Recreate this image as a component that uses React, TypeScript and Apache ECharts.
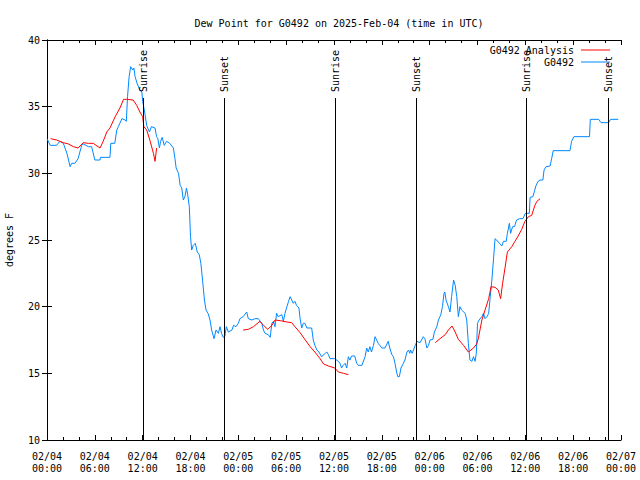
import React, { useEffect, useRef } from "react";
import * as echarts from "echarts";

// hours since 2025-02-04 00:00 UTC, dew point in °F
const stationName = "G0492";
const analysisName = "G0492 Analysis";
const titleText = "Dew Point for G0492 on 2025-Feb-04 (time in UTC)";
const yTitle = "degrees F";

const observed: [number, number][] = [
  [0, 32.6], [0.4, 32.1], [1.2, 32.1], [1.6, 32.4], [2.05, 32.25], [2.5, 31.5], [2.9, 30.5], [3.1, 30.75], [3.5, 30.75], [3.9, 31.1],
  [4.35, 32.1], [4.55, 32.2], [5.2, 32.0], [5.6, 32.0], [6.0, 31.0], [6.65, 31.0], [6.7, 31.2], [7.9, 31.2], [8.0, 32.25], [8.5, 32.25],
  [8.75, 33.25], [8.95, 33.5], [9.4, 34.1], [9.8, 34.0], [9.95, 33.9], [10.1, 35.75], [10.3, 37.25], [10.5, 38.0], [10.75, 37.75], [10.9, 37.9],
  [11.05, 37.25], [11.3, 36.75], [11.65, 36.25], [11.9, 36.1], [12.0, 35.4], [12.1, 35.1], [12.3, 34.4], [12.5, 33.6], [12.85, 33.1], [13.1, 33.5],
  [13.55, 33.4], [13.75, 32.75], [13.9, 32.6], [14.1, 31.9], [14.25, 32.4], [14.45, 32.7], [14.7, 32.1], [15.0, 32.4], [15.4, 32.25], [15.85, 31.9],
  [16.05, 31.1], [16.2, 30.4], [16.5, 30.0], [16.7, 29.1], [16.9, 28.9], [17.1, 28.0], [17.3, 28.25], [17.5, 28.9], [17.65, 28.4], [17.85, 27.5],
  [18.0, 25.25], [18.15, 24.25], [18.35, 24.6], [18.6, 24.75], [18.85, 24.1], [19.1, 23.9], [19.3, 23.25], [19.55, 21.75], [19.75, 20.5], [19.95, 19.75],
  [20.2, 19.5], [20.45, 19.0], [20.65, 18.25], [20.95, 17.6], [21.2, 18.25], [21.5, 18.0], [21.7, 18.5], [21.9, 18.0], [22.1, 17.7], [22.3, 17.75],
  [22.5, 18.5], [22.75, 18.1], [23.2, 18.25], [23.4, 18.6], [23.7, 18.5], [24.0, 18.75], [24.2, 19.1], [24.6, 19.25], [25.05, 19.6], [25.25, 19.1],
  [25.7, 19.0], [26.1, 19.1], [26.5, 19.1], [26.95, 18.75], [27.15, 18.25], [27.35, 18.0], [27.75, 17.9], [28.0, 17.7], [28.2, 18.75], [28.4, 18.9],
  [28.6, 18.5], [28.8, 19.5], [29.0, 19.25], [29.45, 19.4], [29.65, 18.9], [29.85, 19.5], [30.1, 20.0], [30.3, 20.4], [30.5, 20.75], [30.7, 20.5],
  [30.9, 20.25], [31.1, 20.4], [31.3, 20.1], [31.6, 19.9], [31.75, 19.1], [31.95, 18.4], [32.15, 18.75], [32.35, 18.75], [32.6, 18.4], [33.2, 18.4],
  [33.4, 17.5], [33.6, 17.1], [33.85, 16.75], [34.1, 16.6], [34.45, 16.25], [34.9, 16.5], [35.1, 16.6], [35.3, 16.4], [35.5, 16.1], [36.1, 16.1],
  [36.55, 15.9], [36.75, 15.75], [36.95, 15.4], [37.15, 15.6], [37.4, 15.75], [37.6, 15.4], [37.8, 16.25], [38.0, 16.0], [38.2, 16.3], [38.6, 16.3],
  [38.85, 15.75], [39.05, 15.6], [39.5, 15.6], [39.9, 16.25], [40.1, 16.9], [40.3, 16.6], [40.5, 17.0], [40.7, 16.6], [40.95, 17.1], [41.15, 17.75],
  [41.35, 17.5], [41.55, 17.25], [42.0, 16.9], [42.4, 16.9], [42.8, 17.4], [43.0, 16.9], [43.25, 16.4], [43.45, 16.25], [43.65, 15.75], [43.85, 15.1],
  [44.0, 14.75], [44.2, 14.75], [44.4, 15.4], [44.7, 15.75], [44.9, 16.0], [45.15, 16.6], [45.35, 16.75], [45.5, 16.5], [45.6, 16.75], [45.8, 16.5],
  [46.2, 17.1], [46.4, 17.4], [46.8, 17.3], [47.2, 17.75], [47.4, 17.6], [47.65, 16.9], [47.85, 17.1], [48.05, 17.5], [48.4, 17.55], [48.6, 18.1],
  [48.9, 18.5], [49.1, 19.0], [49.4, 19.4], [49.6, 20.0], [49.8, 21.0], [49.9, 21.1], [50.05, 20.5], [50.35, 20.0], [50.55, 19.6], [50.75, 20.75],
  [51.0, 22.0], [51.2, 21.6], [51.4, 20.75], [51.6, 19.25], [51.8, 20.0], [52.0, 19.75], [52.45, 19.5], [52.65, 19.0], [52.85, 17.25], [53.05, 16.0],
  [53.3, 15.9], [53.5, 16.25], [53.7, 15.9], [53.85, 16.5], [54.0, 18.75], [54.2, 19.0], [54.55, 19.25], [54.75, 19.5], [54.95, 19.1], [55.2, 19.25],
  [55.4, 19.5], [55.6, 20.75], [55.8, 22.0], [56.0, 23.5], [56.2, 25.1], [56.4, 25.0], [56.75, 24.75], [57.05, 24.55], [57.25, 24.9], [57.6, 24.9],
  [57.75, 25.5], [58.0, 26.25], [58.15, 25.5], [58.4, 26.0], [58.65, 26.0], [58.9, 26.5], [59.3, 26.6], [59.7, 26.6], [60.0, 27.0], [60.5, 27.0],
  [60.6, 28.2], [60.95, 28.25], [61.35, 29.1], [61.6, 29.4], [61.85, 29.5], [62.2, 29.5], [62.35, 30.25], [62.6, 30.5], [63.1, 30.55], [63.3, 31.1],
  [63.5, 31.7], [65.6, 31.7], [65.8, 32.4], [66.1, 32.75], [68.05, 32.75], [68.15, 34.05], [69.2, 34.05], [69.5, 33.8], [70.45, 33.8], [70.7, 34.05],
  [71.65, 34.05],
];

const analysisPart1: [number, number][] = [
  [0.45, 32.6], [1.2, 32.5], [2.05, 32.3], [2.7, 32.2], [3.3, 32.0], [3.9, 31.9], [4.55, 32.3], [5.2, 32.25], [5.8, 32.25], [6.65, 31.9],
  [7.05, 32.4], [7.5, 33.1], [7.9, 33.4], [8.55, 34.25], [9.15, 34.9], [9.6, 35.55], [10.0, 35.55], [10.8, 35.5], [11.25, 35.1], [11.65, 34.6],
  [12.0, 34.25], [12.15, 33.5], [12.5, 33.25], [12.9, 32.5], [13.35, 31.5], [13.55, 30.9], [13.75, 31.9],
];
const analysisPart2: [number, number][] = [
  [24.6, 18.25], [25.25, 18.3], [25.9, 18.5], [26.7, 18.9], [27.15, 18.6], [27.7, 18.3], [28.2, 18.6], [28.6, 19.0], [29.25, 18.95], [30.1, 18.85],
  [30.7, 18.8], [31.1, 18.5], [31.75, 18.05], [32.4, 17.5], [33.0, 17.0], [33.6, 16.6], [34.25, 16.1], [34.7, 15.7], [35.3, 15.55], [36.1, 15.4],
  [36.55, 15.1], [37.2, 15.0], [37.8, 14.9],
];
const analysisPart3: [number, number][] = [
  [48.7, 17.3], [49.3, 17.6], [49.95, 17.9], [50.35, 18.25], [50.8, 18.55], [51.2, 18.1], [51.6, 17.55], [52.25, 17.1], [52.85, 16.6], [53.5, 16.9],
  [53.9, 17.2], [54.1, 17.6], [54.55, 19.0], [54.95, 19.75], [55.4, 20.6], [55.7, 21.5], [56.2, 21.45], [56.6, 21.25], [56.9, 20.6], [57.15, 21.75],
  [57.45, 22.9], [57.75, 24.1], [58.3, 24.5], [58.7, 24.9], [59.1, 25.3], [59.55, 25.8], [59.95, 26.4], [60.4, 26.75], [60.8, 26.85], [61.2, 27.6],
  [61.45, 27.9], [61.85, 28.1],
];

const sunEventHours = [12.08, 22.25, 36.17, 46.34, 60.14, 70.43];
const sunEventNames = ["Sunrise", "Sunset", "Sunrise", "Sunset", "Sunrise", "Sunset"];

const dayLabels = ["02/04", "02/05", "02/06", "02/07"];
const xMin = 0;
const xMax = 72;
const yMin = 10;
const yMax = 40;

const FONT = "DejaVu Sans Mono";

export default function App() {
  const ref = useRef<HTMLDivElement>(null);
  useEffect(() => {
    if (!ref.current) return;
    const chart = echarts.init(ref.current, undefined, { renderer: "svg" });
    const analysis: any[] = [...analysisPart1, [19, "-"], ...analysisPart2, [43, "-"], ...analysisPart3];
    const fmtX = (v: number) => {
      const d = Math.floor(v / 24);
      const hh = Math.round(v - d * 24);
      return dayLabels[d] + "\n" + String(hh).padStart(2, "0") + ":00";
    };
    const axisLine = { show: true, lineStyle: { color: "#000", width: 1 } };
    const option: any = {
      animation: false,
      backgroundColor: "#fff",
      title: {
        text: titleText,
        left: 334,
        top: 13,
        textAlign: "center",
        textStyle: { fontFamily: FONT, fontSize: 10, fontWeight: "normal", color: "#000" },
      },
      legend: {
        orient: "vertical",
        right: 30,
        top: 44,
        padding: 0,
        align: "right",
        icon: "rect",
        itemWidth: 29,
        itemHeight: 1,
        itemGap: 0,
        data: [analysisName, stationName],
        textStyle: { fontFamily: FONT, fontSize: 10, color: "#000", lineHeight: 12, padding: [0, 2, 0, 0] },
      },
      grid: { left: 47, top: 40, width: 574, height: 400, containLabel: false, outerBoundsMode: "none" },
      xAxis: [
        {
          type: "value",
          min: xMin,
          max: xMax,
          interval: 6,
          position: "bottom",
          axisLine,
          splitLine: { show: false },
          axisTick: { show: true, inside: true, length: 5, lineStyle: { color: "#000" } },
          minorTick: { show: true, splitNumber: 3, length: 3, lineStyle: { color: "#000" } },
          axisLabel: { formatter: fmtX, fontFamily: FONT, fontSize: 10, color: "#000", lineHeight: 12, margin: 10 },
        },
        {
          type: "value",
          min: xMin,
          max: xMax,
          interval: 6,
          position: "top",
          axisLine,
          splitLine: { show: false },
          axisTick: { show: true, inside: true, length: 5, lineStyle: { color: "#000" } },
          minorTick: { show: true, splitNumber: 3, length: 3, lineStyle: { color: "#000" } },
          axisLabel: { show: false },
        },
      ],
      yAxis: [
        {
          type: "value",
          min: yMin,
          max: yMax,
          interval: 5,
          position: "left",
          name: yTitle,
          nameLocation: "middle",
          nameRotate: 90,
          nameGap: 33,
          nameTextStyle: { fontFamily: FONT, fontSize: 10, color: "#000" },
          axisLine,
          splitLine: { show: false },
          axisTick: { show: true, inside: true, length: 5, lineStyle: { color: "#000" } },
          axisLabel: { fontFamily: FONT, fontSize: 10, color: "#000", margin: 7 },
        },
        {
          type: "value",
          min: yMin,
          max: yMax,
          interval: 5,
          position: "right",
          axisLine,
          splitLine: { show: false },
          axisTick: { show: true, inside: true, length: 5, lineStyle: { color: "#000" } },
          axisLabel: { show: false },
        },
      ],
      series: [
        {
          name: analysisName,
          type: "line",
          data: analysis,
          symbol: "none",
          connectNulls: false,
          lineStyle: { color: "#ff0000", width: 1 },
          itemStyle: { color: "#ff0000" },
          z: 3,
        },
        {
          name: stationName,
          type: "line",
          data: observed,
          symbol: "none",
          lineStyle: { color: "#0088ff", width: 1 },
          itemStyle: { color: "#0088ff" },
          z: 2,
        },
        {
          name: "sun",
          type: "custom",
          data: sunEventHours.map((h) => [h, yMax]),
          z: 5,
          silent: true,
          renderItem: (params: any, api: any) => {
            const top = api.coord([api.value(0), yMax]);
            const bot = api.coord([api.value(0), yMin]);
            const x = Math.round(top[0]) + 0.5;
            return {
              type: "group",
              children: [
                {
                  type: "line",
                  shape: { x1: x, y1: top[1] + 58, x2: x, y2: bot[1] },
                  style: { stroke: "#000", lineWidth: 1 },
                },
                {
                  type: "text",
                  x: x,
                  y: top[1] + 52,
                  rotation: Math.PI / 2,
                  style: {
                    text: sunEventNames[params.dataIndex],
                    align: "left",
                    verticalAlign: "middle",
                    font: `10px "${FONT}"`,
                    fill: "#000",
                  },
                },
              ],
            };
          },
        },
      ],
    };
    chart.setOption(option);
    return () => chart.dispose();
  }, []);
  return <div ref={ref} style={{ position: "absolute", left: 0, top: 0, width: 640, height: 480 }} />;
}
